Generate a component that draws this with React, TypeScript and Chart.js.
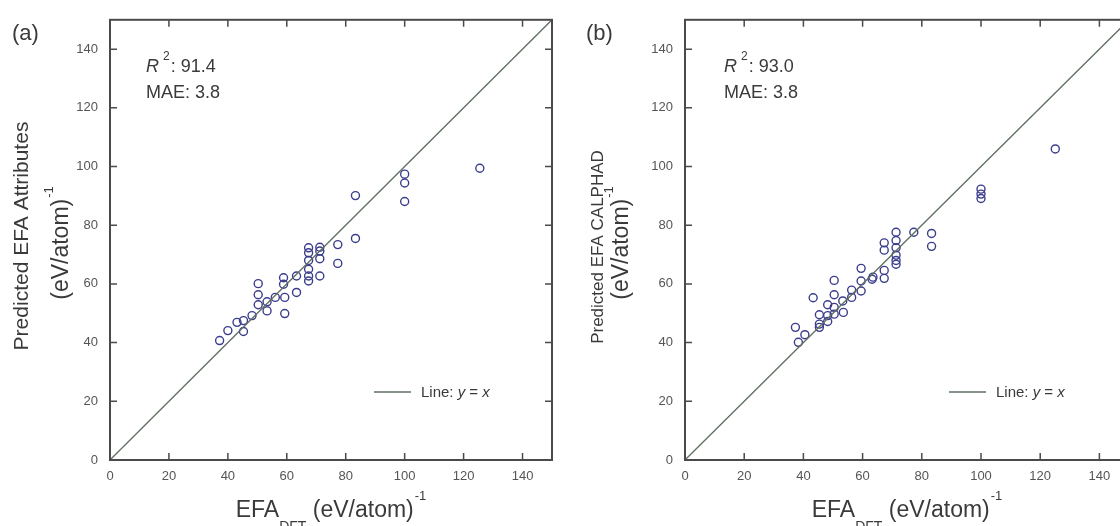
import React, { useEffect, useRef } from "react";
import { Chart, registerables } from "chart.js";
Chart.register(...registerables);

const FONT = "'Liberation Sans', Arial, Helvetica, sans-serif";

// Panel (a): DFT vs predicted (Attributes)
const dftA = [37.2, 40.0, 43.1, 45.3, 45.3, 48.2, 50.3, 50.3, 50.3, 53.3, 53.3, 56.1, 58.9, 58.9, 59.3, 59.3, 63.3, 63.3,
  67.4, 67.4, 67.4, 67.4, 67.4, 67.4, 71.2, 71.2, 71.2, 71.2, 77.3, 77.3, 83.3, 83.3, 100, 100, 100, 125.5];
const predA = [40.7, 44.1, 46.9, 47.5, 43.8, 49.2, 60.1, 56.3, 52.9, 53.9, 50.8, 55.4, 62.1, 59.9, 55.4, 49.9, 62.7, 57.1,
  72.3, 70.6, 68.0, 65.0, 62.7, 61.0, 72.5, 71.2, 68.6, 62.7, 73.4, 67.0, 90.1, 75.5, 97.4, 94.4, 88.1, 99.4];

// Panel (b): DFT vs predicted (CALPHAD)
const dftB = [37.3, 38.3, 40.5, 43.3, 45.4, 45.4, 45.4, 48.2, 48.2, 48.2, 50.4, 50.4, 50.4, 50.4, 53.3, 53.5, 56.3, 56.3,
  59.5, 59.5, 59.5, 63.2, 63.5, 67.3, 67.3, 67.3, 67.3, 71.3, 71.3, 71.3, 71.3, 71.3, 71.3, 77.3, 83.3, 83.3, 100, 100, 100, 125.1];
const predB = [45.2, 40.1, 42.7, 55.3, 49.5, 46.3, 45.2, 52.9, 49.2, 47.2, 61.2, 56.3, 52.0, 49.7, 54.2, 50.3, 57.9, 55.4,
  65.3, 61.0, 57.6, 61.6, 62.3, 74.0, 71.5, 64.6, 61.9, 77.6, 74.8, 72.3, 69.8, 68.0, 66.7, 77.6, 77.2, 72.8, 92.3, 90.6, 89.1, 106.0];

// identity line y = x
const lineX = [0, 150];
const lineY = [0, 150];

const tickValues = [0, 20, 40, 60, 80, 100, 120, 140];
const axisMin = 0;
const axisMax = 150;

type PanelCfg = {
  key: string;
  label: string;
  r2: string;
  mae: string;
  yTitle: string;
  xs: number[];
  ys: number[];
  canvasLeft: number;
  canvasWidth: number;
  yAxisWidth: number;
  rightPad: number;
  yTitleX1: number;
  yTitleX2: number;
  yTitleCy: number;
  yTitleFs: number;
  labelX: number;
  annotDx: number;
};

const panels: PanelCfg[] = [
  {
    key: "a", label: "(a)", r2: "91.4", mae: "3.8", yTitle: "Predicted EFA Attributes",
    xs: dftA, ys: predA, canvasLeft: 0, canvasWidth: 560, yAxisWidth: 110, rightPad: 8,
    yTitleX1: 22, yTitleX2: 62, yTitleCy: 236, yTitleFs: 21, labelX: 12, annotDx: 36,
  },
  {
    key: "b", label: "(b)", r2: "93.0", mae: "3.8", yTitle: "Predicted EFA CALPHAD",
    xs: dftB, ys: predB, canvasLeft: 560, canvasWidth: 580, yAxisWidth: 125, rightPad: 11,
    yTitleX1: 38, yTitleX2: 62, yTitleCy: 247, yTitleFs: 17, labelX: 26, annotDx: 39,
  },
];

const TEXT = "#3a3a3a";
const AXIS = "#4a4a4a";
const LINE_COLOR = "#5f6f60";
const POINT_COLOR = "#3b3d8c";

function makeDeco(p: PanelCfg) {
  return {
    id: "deco" + p.key,
    afterDraw(chart: any) {
      const ctx: CanvasRenderingContext2D = chart.ctx;
      const a = chart.chartArea;
      const xs = chart.scales.x;
      const ys = chart.scales.y;
      ctx.save();
      // inward ticks on all four sides
      ctx.strokeStyle = AXIS;
      ctx.lineWidth = 1.5;
      ctx.beginPath();
      for (const v of tickValues) {
        if (v === 0) continue;
        const px = xs.getPixelForValue(v);
        const py = ys.getPixelForValue(v);
        ctx.moveTo(px, a.bottom); ctx.lineTo(px, a.bottom - 7);
        ctx.moveTo(px, a.top); ctx.lineTo(px, a.top + 7);
        ctx.moveTo(a.left, py); ctx.lineTo(a.left + 7, py);
        ctx.moveTo(a.right, py); ctx.lineTo(a.right - 7, py);
      }
      ctx.stroke();
      // frame
      ctx.lineWidth = 2;
      ctx.strokeRect(a.left, a.top, a.right - a.left, a.bottom - a.top);

      ctx.fillStyle = TEXT;
      ctx.textBaseline = "alphabetic";
      ctx.textAlign = "left";

      // panel label
      ctx.font = `22px ${FONT}`;
      ctx.fillText(p.label, p.labelX, 40);

      // R^2 and MAE annotation
      let x = a.left + p.annotDx;
      ctx.font = `italic 18px ${FONT}`;
      ctx.fillText("R", x, 72);
      x += ctx.measureText("R").width + 4;
      ctx.font = `12px ${FONT}`;
      ctx.fillText("2", x, 60);
      x += ctx.measureText("2").width + 1;
      ctx.font = `18px ${FONT}`;
      ctx.fillText(": " + p.r2, x, 72);
      ctx.fillText("MAE: " + p.mae, a.left + p.annotDx, 98);

      // legend
      const lx = a.left + 264;
      ctx.strokeStyle = LINE_COLOR;
      ctx.lineWidth = 1.3;
      ctx.beginPath();
      ctx.moveTo(lx, 392); ctx.lineTo(lx + 37, 392);
      ctx.stroke();
      let tx = lx + 47;
      const parts: [string, boolean][] = [["Line: ", false], ["y", true], [" = ", false], ["x", true]];
      for (const [s, it] of parts) {
        ctx.font = `${it ? "italic " : ""}15px ${FONT}`;
        ctx.fillText(s, tx, 397);
        tx += ctx.measureText(s).width;
      }

      // x title: EFA_DFT (eV/atom)^-1
      const big = `23px ${FONT}`;
      const sub = `14px ${FONT}`;
      const sup = `13px ${FONT}`;
      ctx.font = big;
      const w1 = ctx.measureText("EFA").width;
      const w3 = ctx.measureText(" (eV/atom)").width;
      ctx.font = sub;
      const w2 = ctx.measureText("DFT").width;
      ctx.font = sup;
      const w4 = ctx.measureText("-1").width;
      const total = w1 + w2 + w3 + w4 + 1;
      let sx = (a.left + a.right) / 2 - total / 2;
      ctx.font = big; ctx.fillText("EFA", sx, 517); sx += w1;
      ctx.font = sub; ctx.fillText("DFT", sx, 531); sx += w2;
      ctx.font = big; ctx.fillText(" (eV/atom)", sx, 517); sx += w3 + 1;
      ctx.font = sup; ctx.fillText("-1", sx, 500);

      // y title (rotated, two lines)
      ctx.save();
      ctx.translate(p.yTitleX1, p.yTitleCy);
      ctx.rotate(-Math.PI / 2);
      ctx.textAlign = "center";
      ctx.textBaseline = "middle";
      ctx.font = `${p.yTitleFs}px ${FONT}`;
      ctx.fillText(p.yTitle, 0, 0);
      ctx.restore();

      ctx.save();
      ctx.translate(p.yTitleX2, 243);
      ctx.rotate(-Math.PI / 2);
      ctx.textBaseline = "middle";
      ctx.textAlign = "left";
      ctx.font = big;
      const m = ctx.measureText("(eV/atom)").width;
      ctx.font = sup;
      const s1 = ctx.measureText("-1").width;
      const start = -(m + s1 + 1) / 2;
      ctx.font = big;
      ctx.fillText("(eV/atom)", start, 0);
      ctx.font = sup;
      ctx.fillText("-1", start + m + 1, -13);
      ctx.restore();

      ctx.restore();
    },
  };
}

function Panel({ p }: { p: PanelCfg }) {
  const ref = useRef<HTMLCanvasElement | null>(null);
  useEffect(() => {
    if (!ref.current) return;
    const points = p.xs.map((v, i) => ({ x: v, y: p.ys[i] }));
    const linePts = lineX.map((v, i) => ({ x: v, y: lineY[i] }));
    const chart = new Chart(ref.current, {
      type: "scatter",
      data: {
        datasets: [
          {
            data: linePts,
            showLine: true,
            borderColor: LINE_COLOR,
            borderWidth: 1.3,
            pointRadius: 0,
            pointHoverRadius: 0,
            fill: false,
          } as any,
          {
            data: points,
            pointStyle: "circle",
            pointRadius: 4,
            borderColor: POINT_COLOR,
            backgroundColor: "rgba(0,0,0,0)",
            borderWidth: 1.4,
          } as any,
        ],
      },
      options: {
        responsive: false,
        animation: false,
        events: [],
        layout: { padding: { top: 17, right: p.rightPad, left: 0, bottom: 0 } },
        plugins: { legend: { display: false }, tooltip: { enabled: false } },
        scales: {
          x: {
            type: "linear",
            min: axisMin,
            max: axisMax,
            grid: { display: false, drawTicks: false },
            border: { display: false },
            ticks: {
              stepSize: 20,
              includeBounds: false,
              padding: 9,
              color: "#555",
              font: { size: 13, family: FONT },
              callback: (v: any) => (tickValues.includes(Number(v)) ? String(v) : ""),
            },
            afterFit: (s: any) => { s.height = 66; },
          },
          y: {
            type: "linear",
            min: axisMin,
            max: axisMax,
            grid: { display: false, drawTicks: false },
            border: { display: false },
            ticks: {
              stepSize: 20,
              includeBounds: false,
              padding: 12,
              color: "#555",
              font: { size: 13, family: FONT },
              callback: (v: any) => (tickValues.includes(Number(v)) ? String(v) : ""),
            },
            afterFit: (s: any) => { s.width = p.yAxisWidth; },
          },
        },
      } as any,
      plugins: [makeDeco(p)],
    });
    return () => chart.destroy();
  }, [p]);
  return (
    <canvas
      ref={ref}
      width={p.canvasWidth}
      height={526}
      style={{ position: "absolute", left: p.canvasLeft, top: 0, width: p.canvasWidth, height: 526 }}
    />
  );
}

export default function App() {
  return (
    <div
      style={{
        position: "fixed",
        left: 0,
        top: 0,
        width: 1120,
        height: 526,
        overflow: "hidden",
        background: "#fff",
      }}
    >
      {panels.map((p) => (
        <Panel key={p.key} p={p} />
      ))}
    </div>
  );
}
